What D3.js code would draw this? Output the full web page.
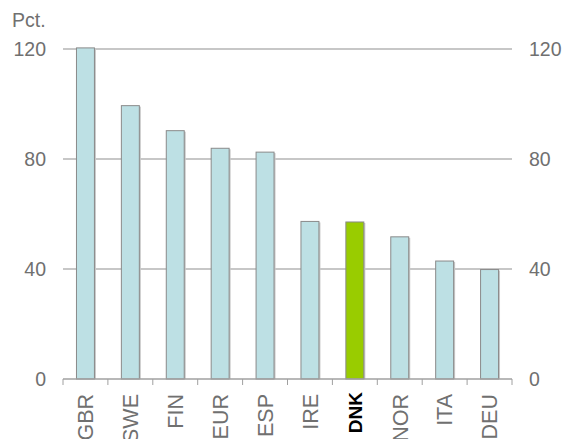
<!DOCTYPE html>
<html>
<head>
<meta charset="utf-8">
<script src="https://cdn.jsdelivr.net/npm/d3@7"></script>
<style>
  html, body { margin: 0; padding: 0; background: #fff; }
  svg { display: block; }
  text { font-family: "Liberation Sans", Arial, sans-serif; }
</style>
</head>
<body>
<svg id="chart" width="565" height="439"></svg>
<script>
const categories = ["GBR", "SWE", "FIN", "EUR", "ESP", "IRE", "DNK", "NOR", "ITA", "DEU"];
const values = [120.4, 99.4, 90.3, 83.9, 82.5, 57.3, 57.1, 51.7, 42.9, 39.8];
const highlight = ["DNK"];
const yTicks = [0, 40, 80, 120];
const yUnit = "Pct.";

(function () {
const svg = d3.select("#chart");
const mLeft = 63, mRight = 512, mTop = 49, mBottom = 379;
const fontSize = 19.5;
const textColor = "#707070";

const x = d3.scaleBand().domain(categories).range([mLeft, mRight]).paddingInner(0.6).paddingOuter(0.3);
const xTicks = d3.scaleBand().domain(categories).range([mLeft, mRight]);
const y = d3.scaleLinear().domain([0, 120]).range([mBottom, mTop]);

// gridlines
svg.append("g").selectAll("line").data(yTicks.filter(d => d > 0)).join("line")
  .attr("x1", mLeft).attr("x2", mRight)
  .attr("y1", d => y(d)).attr("y2", d => y(d))
  .attr("stroke", "#b4b4b4").attr("stroke-width", 1.3);

// bars shadow
svg.append("g").selectAll("rect").data(categories).join("rect")
  .attr("x", d => x(d) + 1.5)
  .attr("y", (d, i) => y(values[i]) + 1)
  .attr("width", x.bandwidth())
  .attr("height", (d, i) => mBottom - y(values[i]) - 1)
  .attr("fill", "#c8c8c8");

// bars
svg.append("g").selectAll("rect").data(categories).join("rect")
  .attr("x", d => x(d))
  .attr("y", (d, i) => y(values[i]))
  .attr("width", x.bandwidth())
  .attr("height", (d, i) => mBottom - y(values[i]))
  .attr("fill", d => highlight.includes(d) ? "#99cc00" : "#bde0e4")
  .attr("stroke", "#8a8a8a").attr("stroke-width", 1);

// bottom axis line and ticks
const ax = svg.append("g");
ax.append("line").attr("x1", mLeft).attr("x2", mRight).attr("y1", mBottom).attr("y2", mBottom)
  .attr("stroke", "#a0a0a0").attr("stroke-width", 1.3);
const boundaries = categories.map(c => xTicks(c)).concat([mRight]);
ax.selectAll("line.tick").data(boundaries).join("line").attr("class", "tick")
  .attr("x1", d => d).attr("x2", d => d)
  .attr("y1", mBottom).attr("y2", mBottom + 6)
  .attr("stroke", "#a0a0a0").attr("stroke-width", 1);

// left y labels
svg.append("g").selectAll("text").data(yTicks).join("text")
  .attr("x", 46).attr("y", d => y(d)).attr("dy", "0.35em")
  .attr("text-anchor", "end").attr("font-size", fontSize).attr("fill", textColor)
  .text(d => d);
// right y labels
svg.append("g").selectAll("text").data(yTicks).join("text")
  .attr("x", 529).attr("y", d => y(d)).attr("dy", "0.35em")
  .attr("text-anchor", "start").attr("font-size", fontSize).attr("fill", textColor)
  .text(d => d);

// unit label
svg.append("text").attr("x", 12).attr("y", 27)
  .attr("font-size", fontSize).attr("fill", textColor).text(yUnit);

// category labels
svg.append("g").selectAll("text").data(categories).join("text")
  .attr("transform", d => {
    const hl = highlight.includes(d);
    return `translate(${x(d) + x.bandwidth() / 2},${mBottom + (hl ? 13 : 15)}) rotate(-90)`;
  })
  .attr("dy", "0.36em")
  .attr("text-anchor", "end")
  .attr("font-size", d => highlight.includes(d) ? 19 : 21.5)
  .attr("font-weight", d => highlight.includes(d) ? "bold" : "normal")
  .attr("fill", d => highlight.includes(d) ? "#000" : textColor)
  .text(d => d);
})();
</script>
</body>
</html>
